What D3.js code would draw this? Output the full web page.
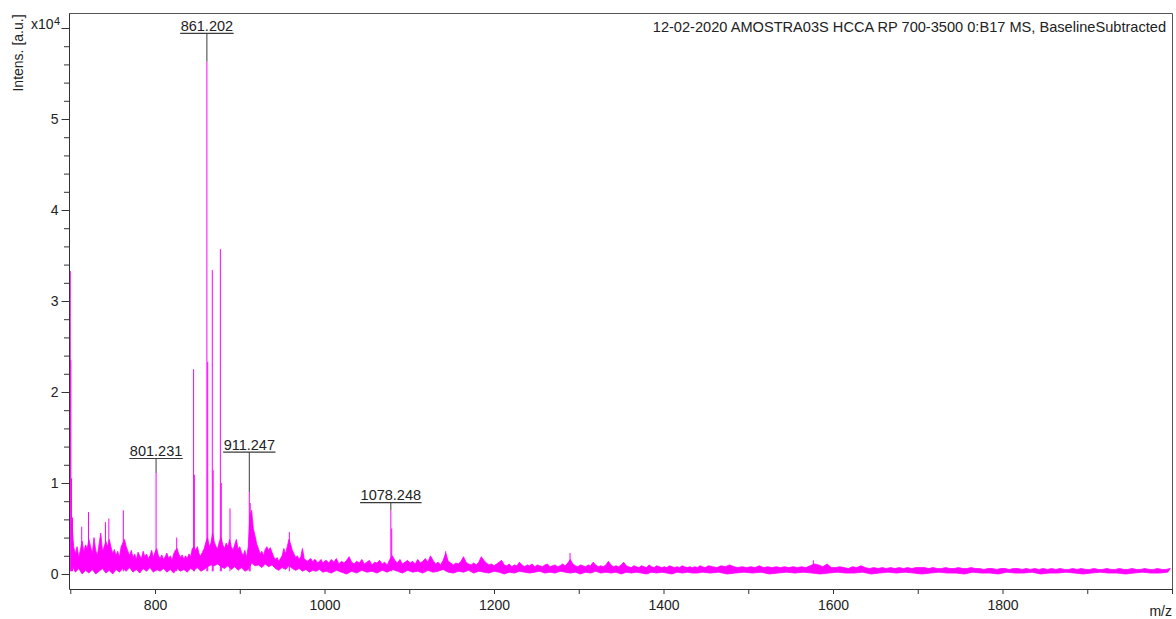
<!DOCTYPE html>
<html>
<head>
<meta charset="utf-8">
<script src="https://cdn.jsdelivr.net/npm/d3@7"></script>
<style>
  html, body { margin: 0; padding: 0; background: #fff; }
  svg { display: block; font-family: "Liberation Sans", Arial, sans-serif; }
</style>
</head>
<body>
<svg id="chart" width="1176" height="619"></svg>
<script>
// ---- Spectrum data (intensity in units of 1e4 a.u.) ----
const mzDomain = [698.5, 2000];
const intensDomain = [-0.165, 6.165];

// Noise band, upper edge, sampled on three m/z grids
const bandTopA_start = 702, bandTopA_step = 2;
const bandTopA = [
  0.55, 0.30, 0.22, 0.30, 0.18, 0.27, 0.36, 0.24, 0.32, 0.28, 0.38, 0.30, 0.22, 0.40, 0.26,
  0.20, 0.33, 0.45, 0.25, 0.30, 0.36, 0.30, 0.38, 0.30, 0.22, 0.27, 0.20, 0.25, 0.18, 0.30,
  0.34, 0.38, 0.30, 0.25, 0.20, 0.26, 0.18, 0.22, 0.16, 0.24, 0.20, 0.17, 0.25, 0.19, 0.22,
  0.17, 0.20, 0.26, 0.18, 0.24, 0.28, 0.20, 0.17, 0.21, 0.16, 0.19, 0.23, 0.17, 0.20, 0.15,
  0.22, 0.26, 0.28, 0.22, 0.18, 0.21, 0.16, 0.20, 0.17, 0.22, 0.19, 0.28, 0.30, 0.26, 0.30,
  0.22, 0.20, 0.24, 0.28, 0.35, 0.40, 0.30, 0.34, 0.45, 0.35, 0.30, 0.28, 0.36, 0.40, 0.32,
  0.28, 0.34, 0.30, 0.38, 0.30, 0.26, 0.32, 0.38, 0.27, 0.30, 0.24, 0.20, 0.26, 0.18, 0.30,
  0.65, 0.70, 0.50, 0.42, 0.33, 0.28, 0.22, 0.25, 0.20, 0.27, 0.30, 0.26, 0.29, 0.24, 0.19,
  0.16, 0.18, 0.14, 0.17, 0.20, 0.28, 0.22, 0.30, 0.38, 0.33, 0.26, 0.22, 0.18, 0.20, 0.16,
  0.19, 0.28, 0.17, 0.15, 0.14, 0.16, 0.17, 0.13, 0.16, 0.15, 0.12, 0.14, 0.16, 0.12, 0.14
];
const bandTopB_start = 1002, bandTopB_step = 3;
const bandTopB = [
  0.15, 0.12, 0.16, 0.13, 0.17, 0.11, 0.14, 0.12, 0.15, 0.19, 0.13, 0.11, 0.14, 0.12, 0.16,
  0.11, 0.13, 0.15, 0.10, 0.13, 0.12, 0.15, 0.11, 0.13, 0.10, 0.16, 0.20, 0.15, 0.12, 0.16,
  0.11, 0.13, 0.15, 0.12, 0.14, 0.11, 0.16, 0.12, 0.14, 0.17, 0.13, 0.20, 0.15, 0.11, 0.13,
  0.10, 0.15, 0.23, 0.14, 0.12, 0.10, 0.12, 0.11, 0.14, 0.19, 0.13, 0.11, 0.10, 0.12, 0.10,
  0.13, 0.19, 0.15, 0.12, 0.10, 0.11, 0.09, 0.11, 0.13, 0.15, 0.10, 0.09, 0.11, 0.08, 0.10,
  0.09, 0.13, 0.10, 0.08, 0.10, 0.09, 0.11, 0.08, 0.10, 0.09, 0.08, 0.10, 0.11, 0.08, 0.09,
  0.10, 0.08, 0.09, 0.11, 0.09, 0.12, 0.16, 0.11, 0.09, 0.08, 0.10, 0.09, 0.08, 0.10, 0.09,
  0.13, 0.10, 0.08, 0.09, 0.08, 0.10, 0.14, 0.10, 0.08, 0.09, 0.08, 0.10, 0.13, 0.09, 0.08,
  0.07, 0.09, 0.08, 0.07, 0.09, 0.08, 0.07, 0.10, 0.08, 0.07, 0.09, 0.08, 0.07, 0.08, 0.07,
  0.09, 0.08, 0.07, 0.08, 0.07, 0.09, 0.08, 0.07, 0.08, 0.07, 0.08, 0.07, 0.09, 0.08, 0.07
];
const bandTopC_start = 1453, bandTopC_step = 5;
const bandTopC = [
  0.09, 0.08, 0.07, 0.09, 0.08, 0.10, 0.08, 0.07, 0.08, 0.07,
  0.08, 0.07, 0.09, 0.07, 0.08, 0.07, 0.08, 0.07, 0.08, 0.07,
  0.08, 0.07, 0.08, 0.07, 0.09, 0.11, 0.10, 0.08, 0.11, 0.07,
  0.07, 0.08, 0.07, 0.06, 0.08, 0.07, 0.09, 0.07, 0.06, 0.07,
  0.06, 0.07, 0.06, 0.07, 0.06, 0.07, 0.06, 0.07, 0.06, 0.07,
  0.07, 0.07, 0.06, 0.07, 0.06, 0.06, 0.07, 0.06, 0.06, 0.07,
  0.06, 0.06, 0.07, 0.06, 0.06, 0.05, 0.06, 0.06, 0.05, 0.06,
  0.06, 0.05, 0.06, 0.06, 0.05, 0.06, 0.05, 0.06, 0.05, 0.06,
  0.05, 0.06, 0.05, 0.06, 0.05, 0.05, 0.06, 0.05, 0.06, 0.05,
  0.05, 0.06, 0.05, 0.05, 0.06, 0.05, 0.05, 0.06, 0.05, 0.05,
  0.06, 0.05, 0.05, 0.06, 0.05, 0.05, 0.06, 0.05, 0.05, 0.06
];

// Noise band, lower edge
const bandLowA_start = 702, bandLowA_step = 4;
const bandLowA = [
  0.10, 0.02, 0.06, 0.00, 0.04, 0.01, 0.05, 0.00, 0.03, 0.06, 0.01, 0.04, 0.00, 0.05, 0.02,
  0.06, 0.03, 0.07, 0.02, 0.05, 0.01, 0.06, 0.03, 0.07, 0.02, 0.05, 0.03, 0.06, 0.02, 0.05,
  0.01, 0.06, 0.03, 0.05, 0.02, 0.06, 0.04, 0.07, 0.03, 0.05, 0.08, 0.10, 0.09, 0.11, 0.08,
  0.06, 0.09, 0.05, 0.08, 0.04, 0.07, 0.03, 0.05, 0.12, 0.09, 0.10, 0.07, 0.11, 0.08, 0.10,
  0.06, 0.04, 0.07, 0.05, 0.09, 0.06, 0.04, 0.06, 0.03, 0.05, 0.02, 0.04, 0.03, 0.05, 0.02
];
const bandLowB_start = 1002, bandLowB_step = 6;
const bandLowB = [
  0.03, 0.01, 0.04, 0.02, 0.00, 0.03, 0.01, 0.04, 0.02, 0.03, 0.01, 0.04, 0.02, 0.05, 0.03,
  0.01, 0.04, 0.02, 0.03, 0.01, 0.04, 0.02, 0.03, 0.05, 0.02, 0.01, 0.03, 0.02, 0.04, 0.01,
  0.03, 0.02, 0.01, 0.03, 0.02, 0.00, 0.02, 0.01, 0.03, 0.02, 0.01, 0.02, 0.03, 0.01, 0.02,
  0.01, 0.03, 0.02, 0.01, 0.02, 0.00, 0.02, 0.01, 0.03, 0.01, 0.02, 0.01, 0.02, 0.00, 0.02,
  0.01, 0.02, 0.01, 0.00, 0.02, 0.01, 0.02, 0.01, 0.00, 0.02, 0.01, 0.02, 0.01, 0.01, 0.02
];
const bandLowC_start = 1455, bandLowC_step = 10;
const bandLowC = [
  0.01, 0.02, 0.00, 0.01, 0.02, 0.01, 0.02, 0.00, 0.01, 0.02, 0.01,
  0.02, 0.01, 0.00, 0.01, 0.02, 0.01, 0.01, 0.02, 0.00, 0.01, 0.02,
  0.01, 0.02, 0.01, 0.00, 0.01, 0.02, 0.01, 0.01, 0.00, 0.02, 0.01,
  0.01, 0.00, 0.02, 0.01, 0.01, 0.02, 0.00, 0.01, 0.01, 0.02, 0.01,
  0.00, 0.01, 0.02, 0.01, 0.01, 0.00, 0.01, 0.02, 0.01, 0.01, 0.02
];

// Individual peaks rising out of the band
const peakMz = [
  700.0, 700.7, 701.5, 702.6, 713.5, 721.5, 741.5, 745.5, 762.6,
  801.231, 825.6, 845.5, 846.4, 861.202, 862.2, 867.6, 868.6, 877.1, 878.2,
  888.5, 911.247, 912.3, 958.5, 1078.248, 1079.3, 1143.0, 1289.7, 1576.8
];
const peakIntensity = [
  3.33, 2.35, 1.05, 0.62, 0.52, 0.68, 0.57, 0.61, 0.70,
  1.11, 0.40, 2.25, 1.09, 5.63, 2.33, 3.34, 1.14, 3.57, 1.00,
  0.72, 0.90, 0.78, 0.46, 0.70, 0.50, 0.25, 0.23, 0.15
];

// Annotated peaks
const labelledMz = [801.231, 861.202, 911.247, 1078.248];

// Axis ticks
const yMajorTicks = [0, 1, 2, 3, 4, 5];
const yExponentTick = 6;
const xTicks = [700, 800, 900, 1000, 1100, 1200, 1300, 1400, 1500, 1600, 1700, 1800, 1900, 2000];
const xLabelled = [800, 1000, 1200, 1400, 1600, 1800];

const titleText = "12-02-2020 AMOSTRA03S HCCA RP 700-3500 0:B17 MS, BaselineSubtracted";

// ---- Layout ----
const plot = { left: 69, right: 1172, top: 13, bottom: 589 };
const labelLiftPx = [14.5, 28.4, 40, 7.6];   // gap between label underline and peak apex
const magenta = "#ff00ff";
const ink = "#222";
const axisInk = "#333";

const svg = d3.select("#chart");
const x = d3.scaleLinear().domain(mzDomain).range([plot.left, plot.right]);
const y = d3.scaleLinear().domain(intensDomain).range([plot.bottom, plot.top]);

svg.append("defs").append("clipPath").attr("id", "plotClip")
  .append("rect")
  .attr("x", plot.left).attr("y", plot.top)
  .attr("width", plot.right - plot.left).attr("height", plot.bottom - plot.top);

const grid = (start, step, vals) => vals.map((v, i) => [start + i * step, v]);

const upper = grid(bandTopA_start, bandTopA_step, bandTopA)
  .concat(grid(bandTopB_start, bandTopB_step, bandTopB))
  .concat(grid(bandTopC_start, bandTopC_step, bandTopC));
const lower = grid(bandLowA_start, bandLowA_step, bandLowA)
  .concat(grid(bandLowB_start, bandLowB_step, bandLowB))
  .concat(grid(bandLowC_start, bandLowC_step, bandLowC));

const line = d3.line().x(d => x(d[0])).y(d => y(d[1]));

const trace = svg.append("g").attr("clip-path", "url(#plotClip)");

// noise band
trace.append("path")
  .attr("d", line(upper.concat(lower.slice().reverse())) + "Z")
  .attr("fill", magenta)
  .attr("stroke", magenta)
  .attr("stroke-width", 0.8)
  .attr("stroke-linejoin", "miter");

// peaks
trace.selectAll("path.peak")
  .data(peakMz.map((m, i) => [m, peakIntensity[i]]))
  .join("path")
  .attr("class", "peak")
  .attr("d", d => line([[d[0], 0.03], [d[0], d[1]]]))
  .attr("fill", "none")
  .attr("stroke", magenta)
  .attr("stroke-width", 1);

// ---- Axes ----
const yAxis = svg.append("g").attr("transform", `translate(${plot.left},0)`);
yAxis.call(d3.axisLeft(y).tickValues(yMajorTicks.concat([yExponentTick]))
  .tickSize(7.5).tickSizeOuter(0).tickPadding(3)
  .tickFormat(d => d === yExponentTick ? "" : d3.format("d")(d)));
yAxis.append("g").call(d3.axisLeft(y)
  .tickValues(d3.range(0.2, 6.0, 0.2).filter(v => Math.abs(v - Math.round(v)) > 1e-6))
  .tickSize(5).tickSizeOuter(0).tickFormat(""))
  .select(".domain").remove();

const xAxis = svg.append("g").attr("transform", `translate(0,${plot.bottom})`);
xAxis.call(d3.axisBottom(x).tickValues(xTicks)
  .tickSize(5).tickSizeOuter(0).tickPadding(6)
  .tickFormat(d => xLabelled.includes(d) ? String(d) : ""));

svg.selectAll(".tick text")
  .attr("font-size", 14)
  .attr("fill", ink)
  .attr("font-family", "'Liberation Sans', Arial, sans-serif");
svg.selectAll(".domain, .tick line").attr("stroke", axisInk);

// frame (top and right)
svg.append("path")
  .attr("d", `M${plot.left},${plot.top + 0.5}H${plot.right + 0.5}V${plot.bottom}`)
  .attr("fill", "none")
  .attr("stroke", "#555")
  .attr("stroke-width", 1);

// exponent marker
svg.append("text")
  .attr("x", 53.5).attr("y", y(yExponentTick) + 1)
  .attr("text-anchor", "end")
  .attr("font-size", 14).attr("fill", ink)
  .text("x10");
svg.append("text")
  .attr("x", 54).attr("y", y(yExponentTick) - 3)
  .attr("font-size", 11).attr("fill", ink)
  .text("4");

// axis titles
svg.append("text")
  .attr("transform", `translate(22.5,53) rotate(-90)`)
  .attr("text-anchor", "middle")
  .attr("font-size", 14).attr("fill", ink)
  .text("Intens. [a.u.]");
svg.append("text")
  .attr("x", 1172).attr("y", 616)
  .attr("text-anchor", "end")
  .attr("font-size", 14).attr("fill", ink)
  .text("m/z");

// spectrum title
svg.append("text")
  .attr("x", 1166).attr("y", 32)
  .attr("text-anchor", "end")
  .attr("font-size", 14.6).attr("fill", ink)
  .text(titleText);

// ---- Peak annotations ----
const fmt = d3.format(".3f");
labelledMz.forEach((mz, i) => {
  const inten = peakIntensity[peakMz.indexOf(mz)];
  const px = x(mz), py = y(inten);
  const uy = py - labelLiftPx[i];
  const g = svg.append("g");
  const t = g.append("text")
    .attr("x", px).attr("y", uy - 2.5)
    .attr("text-anchor", "middle")
    .attr("font-size", 14.5).attr("fill", ink)
    .text(fmt(mz));
  const bb = t.node().getBBox();
  g.append("line")
    .attr("x1", bb.x - 0.5).attr("x2", bb.x + bb.width + 0.5)
    .attr("y1", uy).attr("y2", uy)
    .attr("stroke", "#3a3a3a").attr("stroke-width", 1.2);
  g.append("line")
    .attr("x1", px).attr("x2", px)
    .attr("y1", uy).attr("y2", py)
    .attr("stroke", "#3a3a3a").attr("stroke-width", 1);
});
</script>
</body>
</html>
